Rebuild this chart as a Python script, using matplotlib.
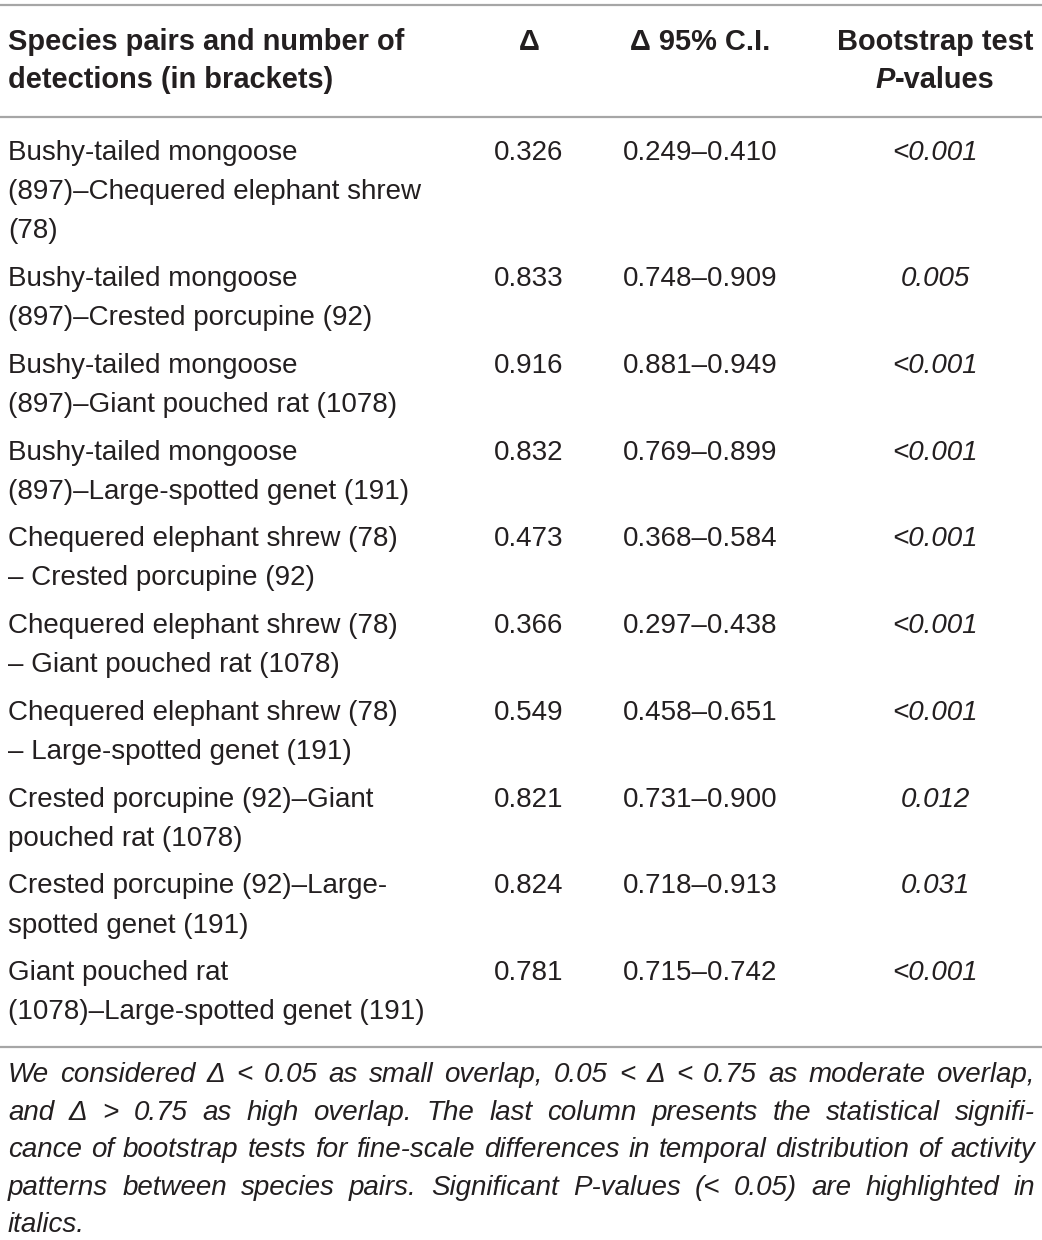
import matplotlib
matplotlib.use("Agg")
import matplotlib.pyplot as plt
from matplotlib import font_manager as fm

# ---------------- data ----------------
header_pair = ["Species pairs and number of", "detections (in brackets)"]
header_delta = "Δ"
header_ci = "Δ 95% C.I."
header_p = ["Bootstrap test", "-values"]

pairs = [
    ["Bushy-tailed mongoose", "(897)–Chequered elephant shrew", "(78)"],
    ["Bushy-tailed mongoose", "(897)–Crested porcupine (92)"],
    ["Bushy-tailed mongoose", "(897)–Giant pouched rat (1078)"],
    ["Bushy-tailed mongoose", "(897)–Large-spotted genet (191)"],
    ["Chequered elephant shrew (78)", "– Crested porcupine (92)"],
    ["Chequered elephant shrew (78)", "– Giant pouched rat (1078)"],
    ["Chequered elephant shrew (78)", "– Large-spotted genet (191)"],
    ["Crested porcupine (92)–Giant", "pouched rat (1078)"],
    ["Crested porcupine (92)–Large-", "spotted genet (191)"],
    ["Giant pouched rat", "(1078)–Large-spotted genet (191)"],
]
delta = [0.326, 0.833, 0.916, 0.832, 0.473, 0.366, 0.549, 0.821, 0.824, 0.781]
ci_low = [0.249, 0.748, 0.881, 0.769, 0.368, 0.297, 0.458, 0.731, 0.718, 0.715]
ci_high = [0.410, 0.909, 0.949, 0.899, 0.584, 0.438, 0.651, 0.900, 0.913, 0.742]
p_values = ["<0.001", "0.005", "<0.001", "<0.001", "<0.001", "<0.001",
            "<0.001", "0.012", "0.031", "<0.001"]

footnote = [
    "We considered Δ < 0.05 as small overlap, 0.05 < Δ < 0.75 as moderate overlap,",
    "and Δ > 0.75 as high overlap. The last column presents the statistical signifi-",
    "cance of bootstrap tests for fine-scale differences in temporal distribution of activity",
    "patterns between species pairs. Significant P-values (< 0.05) are highlighted in",
    "italics.",
]

# ---------------- layout ----------------
W, H = 1042, 1240
FONT = "Liberation Sans"
names = {f.name for f in fm.fontManager.ttflist}
FOOT_FONT = "Liberation Sans Narrow" if "Liberation Sans Narrow" in names else FONT
TXT = "#231f20"
RULE = "#a6a6a6"

fig = plt.figure(figsize=(W / 100, H / 100), dpi=100)
ax = fig.add_axes([0, 0, 1, 1])
ax.set_xlim(0, W)
ax.set_ylim(H, 0)
ax.axis("off")
renderer = fig.canvas.get_renderer()


def width(s, size, family=FONT, **kw):
    t = ax.text(0, 0, s, fontsize=size, family=family, **kw)
    w = t.get_window_extent(renderer).width
    t.remove()
    return w


def fit(s, target, family=FONT, **kw):
    return 10 * target / width(s, 10, family=family, **kw)


body_fs = fit("(897)–Chequered elephant shrew", 415)
head_fs = fit("Species pairs and number of", 397, fontweight="bold")
foot_fs = fit(footnote[2], 1022, family=FOOT_FONT, style="italic")
foot_fs = min(foot_fs, body_fs * 1.02)

LEFT, RIGHT = 8, 1035
X_DELTA, X_CI, X_P = 529, 700, 935

# rules
for y in (5, 117, 1047):
    ax.plot([0, W], [y, y], color=RULE, lw=1.6, solid_capstyle="butt")

# header
hk = dict(fontsize=head_fs, family=FONT, fontweight="bold", color=TXT, va="center")
ax.text(LEFT, 42, header_pair[0], ha="left", **hk)
ax.text(LEFT, 80, header_pair[1], ha="left", **hk)
ax.text(X_DELTA, 42, header_delta, ha="center", **hk)
ax.text(X_CI, 42, header_ci, ha="center", **hk)
ax.text(X_P, 42, header_p[0], ha="center", **hk)
wP = width("P", head_fs, fontweight="bold", style="italic")
wv = width(header_p[1], head_fs, fontweight="bold")
x0 = X_P - (wP + wv) / 2
ax.text(x0, 80, "P", ha="left", style="italic", **hk)
ax.text(x0 + wP, 80, header_p[1], ha="left", **hk)

# body
bk = dict(fontsize=body_fs, family=FONT, color=TXT, va="center")
LINE_H = 39.1
GAP = 8.6
y = 153
for lines, d, lo, hi, p in zip(pairs, delta, ci_low, ci_high, p_values):
    for i, ln in enumerate(lines):
        ax.text(LEFT, y + i * LINE_H, ln, ha="left", **bk)
    ax.text(X_DELTA, y, f"{d:.3f}", ha="center", **bk)
    ax.text(X_CI, y, f"{lo:.3f}–{hi:.3f}", ha="center", **bk)
    ax.text(X_P, y, p, ha="center", style="italic", **bk)
    y += len(lines) * LINE_H + GAP

# footnote (justified)
fk = dict(fontsize=foot_fs, family=FOOT_FONT, color=TXT, va="center", style="italic")
fy = 1075
for j, ln in enumerate(footnote):
    yy = fy + j * 37.6
    if j == len(footnote) - 1:
        ax.text(LEFT, yy, ln, ha="left", **fk)
        continue
    words = ln.split(" ")
    ws = [width(w_, foot_fs, family=FOOT_FONT, style="italic") for w_ in words]
    gap = (RIGHT - LEFT - sum(ws)) / (len(words) - 1)
    x = LEFT
    for w_, wd in zip(words, ws):
        ax.text(x, yy, w_, ha="left", **fk)
        x += wd + gap

fig.savefig("out.png", dpi=100)
